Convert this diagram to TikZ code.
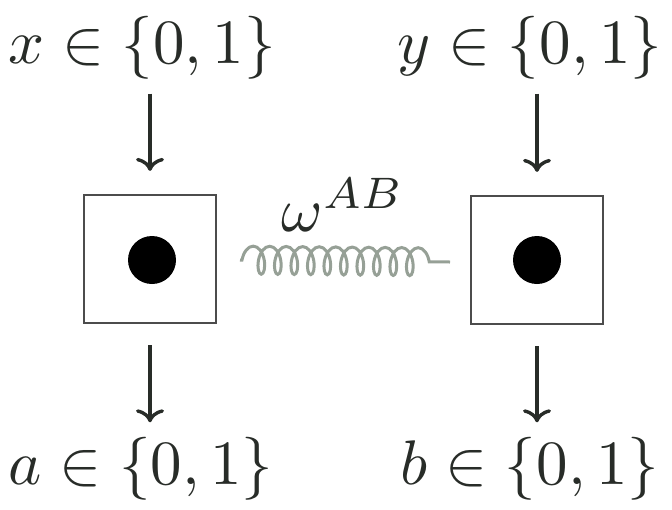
\documentclass[tikz,border=0pt]{standalone}
\usepackage{graphicx}
\usetikzlibrary{arrows.meta,decorations.pathmorphing}
\newcommand{\bigmath}[1]{\scalebox{6.3}{$#1$}}
\definecolor{springgray}{RGB}{150,160,150}
\definecolor{inkgray}{RGB}{40,44,40}
\begin{document}
\begin{tikzpicture}[x=1pt,y=-1pt,
  lbl/.style={inner sep=0pt,text=inkgray},
  dev/.style={draw=black!70,line width=2.2pt,minimum width=132pt,minimum height=128pt,inner sep=0pt},
  ball/.style={circle,fill=black,minimum size=48pt,inner sep=0pt},
  arr/.style={line width=3.6pt,inkgray,-{Computer Modern Rightarrow[length=13pt,width=28pt,line width=3.4pt]}},
  inarr/.style={arr,shorten <=14pt,shorten >=23pt},
  outarr/.style={arr,shorten <=21pt,shorten >=15pt},
  spring/.style={draw=springgray,line width=3pt,decorate,decoration={coil,amplitude=14pt,segment length=16.5pt,aspect=0.5,pre length=2pt,post length=10pt}}]
\useasboundingbox (0,0) rectangle (672,509);
\node[lbl] (x) at (142,48) {\bigmath{x\in\{0,1\}}};
\node[lbl] (y) at (530,48) {\bigmath{y\in\{0,1\}}};
\node[lbl] (a) at (141,469) {\bigmath{a\in\{0,1\}}};
\node[lbl] (b) at (530,469) {\bigmath{b\in\{0,1\}}};
\node[dev] (A) at (150,259) {};
\node[dev] (B) at (537,260) {};
\node[ball] (dA) at (152,260) {};
\node[ball] (dB) at (537,260) {};
\node[lbl] (w) at (343,205) {\bigmath{\omega^{AB}}};
\coordinate (sl) at (240,260);
\coordinate (sr) at (450,262);
\draw[inarr] (x.south -| A) -- (A.north);
\draw[inarr] (y.south -| B) -- (B.north);
\draw[outarr] (A.south) -- (a.north -| A);
\draw[outarr] (B.south) -- (b.north -| B);
\draw[spring] (sl) -- (sr);
\end{tikzpicture}
\end{document}
